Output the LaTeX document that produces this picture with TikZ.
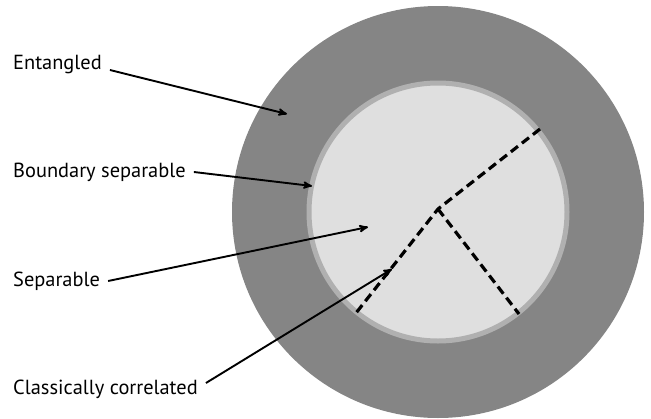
\documentclass[tikz,border=0pt]{standalone}
\usepackage{fontspec}
\setmainfont{PT Sans}
\usepackage{tikz}
\usetikzlibrary{arrows}
\usetikzlibrary{positioning}
\usepackage{xcolor}

\definecolor{entgray}{RGB}{133,133,133}
\definecolor{bndgray}{RGB}{176,176,176}
\definecolor{sepgray}{RGB}{223,223,223}

\begin{document}
\begin{tikzpicture}[>=stealth',x=1pt,y=-1pt]

 % labels on the left: text only, anchored at the baseline
 \tikzset{label text/.style={anchor=base west,inner xsep=8pt,inner ysep=0pt,
   font=\fontsize{20.4}{22}\selectfont,text height=14pt,text depth=4pt},
   pointer/.style={->,line width=1.9pt},
   split/.style={line width=3.2pt,dash pattern=on 9pt off 5pt}}

 \useasboundingbox (0,0) rectangle (651,418);

 % Entangled ring, boundary and separable disc
 \fill[entgray] (438,212) circle (206pt);
 \filldraw[fill=sepgray,draw=bndgray,line width=5pt] (438,212) circle (129pt);

 % classically correlated: three cuts through the disc
 \coordinate (Hub) at (438,209);
 \coordinate (CutA) at (540,129);
 \coordinate (CutB) at (356,313);
 \coordinate (CutC) at (519,314);
 \draw[split] (CutA) -- (Hub) -- (CutB);
 \draw[split] (Hub) -- (CutC);

 % label nodes
 \node[label text] (Entangled) at (5,69) {Entangled};
 \node[label text] (Boundary) at (5,177) {Boundary separable};
 \node[label text] (Separable) at (5,286) {Separable};
 \node[label text] (Classical) at (5,394) {Classically correlated};

 % where the arrows point
 \coordinate (EntTip) at (287,114);
 \coordinate (BndTip) at (312,186);
 \coordinate (SepTip) at (368,227);
 \coordinate (ClsTip) at (392,269);

 \draw[pointer] ([yshift=-6pt]Entangled.east) -- (EntTip);
 \draw[pointer] (Boundary.east) -- (BndTip);
 \draw[pointer] (Separable.east) -- (SepTip);
 \draw[pointer] ([yshift=6pt]Classical.east) -- (ClsTip);

\end{tikzpicture}
\end{document}
